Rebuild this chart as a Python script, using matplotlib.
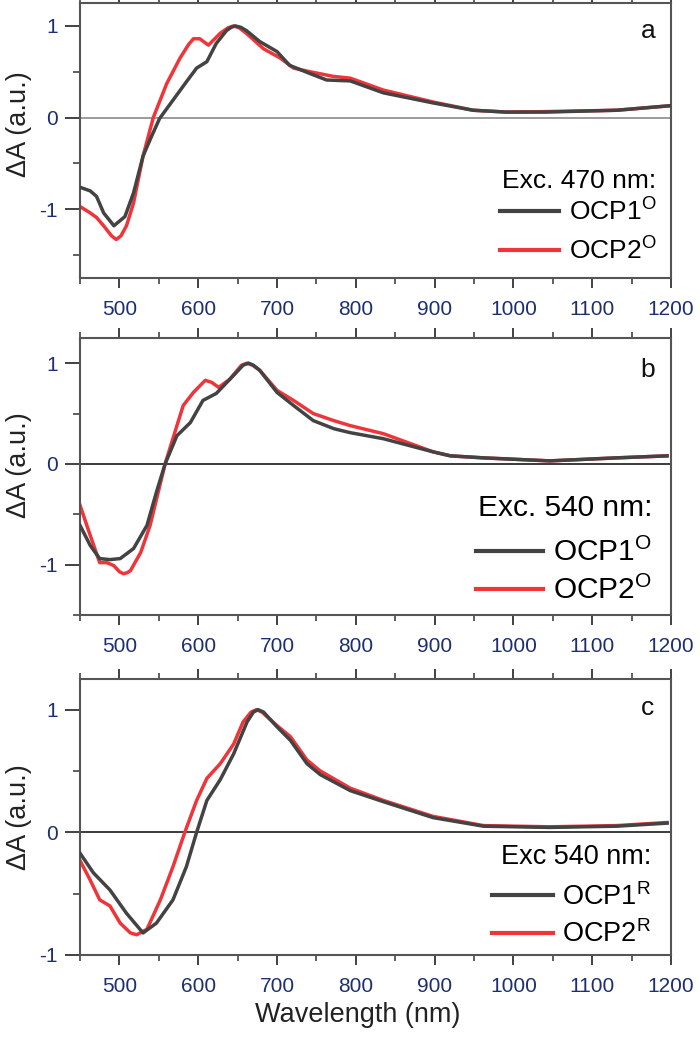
import matplotlib
matplotlib.use("Agg")
import matplotlib.pyplot as plt
from matplotlib.ticker import MultipleLocator

plt.rcParams['font.family'] = ['Liberation Sans', 'DejaVu Sans']
plt.rcParams['mathtext.fontset'] = 'custom'
plt.rcParams['mathtext.rm'] = 'Liberation Sans'
plt.rcParams['mathtext.it'] = 'Liberation Sans:italic'
plt.rcParams['axes.unicode_minus'] = False

# ---------------- data ----------------
# Panel a (Exc. 470 nm)
wl_a_ocp1 = [450, 463, 471, 480, 493, 507, 518, 530, 540, 551, 568, 585, 598, 611, 623, 636, 642,
             647, 654, 661, 678, 700, 716, 742, 763, 793, 835, 898, 949, 991, 1040, 1131, 1200]
dA_a_ocp1 = [-0.76, -0.80, -0.86, -1.04, -1.18, -1.08, -0.82, -0.42, -0.22, -0.01, 0.19, 0.39, 0.54,
             0.61, 0.81, 0.95, 0.985, 1.00, 0.985, 0.95, 0.83, 0.72, 0.57, 0.48, 0.41, 0.40, 0.27,
             0.16, 0.08, 0.06, 0.06, 0.08, 0.13]
wl_a_ocp2 = [450, 463, 471, 480, 490, 496, 502, 509, 518, 530, 543, 560, 577, 588, 594, 602, 613,
             628, 638, 645, 652, 661, 683, 704, 721, 742, 771, 793, 835, 898, 949, 991, 1040, 1131,
             1200]
dA_a_ocp2 = [-0.97, -1.04, -1.09, -1.18, -1.29, -1.33, -1.29, -1.18, -0.93, -0.42, 0.00, 0.37, 0.65,
             0.80, 0.86, 0.86, 0.79, 0.92, 0.98, 1.00, 0.98, 0.92, 0.75, 0.65, 0.54, 0.50, 0.45,
             0.43, 0.30, 0.17, 0.08, 0.06, 0.065, 0.08, 0.13]

# Panel b (Exc. 540 nm)
wl_b_ocp1 = [450, 463, 475, 488, 501, 518, 535, 547, 558, 573, 590, 606, 623, 645, 657, 664, 670,
             678, 700, 721, 746, 772, 793, 835, 898, 920, 962, 1046, 1131, 1195]
dA_b_ocp1 = [-0.61, -0.81, -0.94, -0.95, -0.94, -0.84, -0.61, -0.28, 0.00, 0.28, 0.41, 0.63, 0.70,
             0.88, 0.98, 1.00, 0.98, 0.93, 0.71, 0.58, 0.43, 0.35, 0.31, 0.25, 0.12, 0.08, 0.06,
             0.03, 0.06, 0.08]
wl_b_ocp2 = [450, 463, 475, 484, 493, 500, 505, 510, 514, 527, 539, 558, 573, 581, 594, 609, 617,
             626, 640, 655, 662, 669, 678, 700, 721, 746, 772, 793, 835, 898, 920, 962, 1046, 1131,
             1195]
dA_b_ocp2 = [-0.41, -0.71, -0.98, -0.98, -1.01, -1.07, -1.09, -1.08, -1.06, -0.88, -0.61, 0.00, 0.38,
             0.58, 0.71, 0.83, 0.81, 0.76, 0.84, 0.98, 1.00, 0.98, 0.93, 0.73, 0.63, 0.50, 0.43,
             0.38, 0.30, 0.12, 0.08, 0.06, 0.03, 0.06, 0.08]

# Panel c (Exc 540 nm, R forms)
wl_c_ocp1 = [450, 467, 488, 509, 530, 547, 568, 585, 598, 611, 628, 645, 662, 670, 676, 683, 700,
             717, 738, 755, 793, 835, 898, 962, 1046, 1131, 1195]
dA_c_ocp1 = [-0.17, -0.33, -0.47, -0.66, -0.82, -0.74, -0.55, -0.28, 0.00, 0.26, 0.43, 0.64, 0.90,
             0.98, 1.00, 0.98, 0.86, 0.75, 0.56, 0.47, 0.34, 0.25, 0.12, 0.05, 0.04, 0.05, 0.075]
wl_c_ocp2 = [450, 463, 475, 488, 501, 514, 522, 535, 552, 568, 583, 598, 611, 628, 645, 657, 667,
             674, 681, 700, 717, 738, 755, 793, 835, 898, 962, 1046, 1131, 1195]
dA_c_ocp2 = [-0.23, -0.39, -0.55, -0.60, -0.74, -0.82, -0.835, -0.79, -0.55, -0.28, 0.00, 0.26,
             0.44, 0.56, 0.72, 0.90, 0.98, 1.00, 0.98, 0.87, 0.78, 0.59, 0.50, 0.36, 0.26, 0.13,
             0.055, 0.045, 0.055, 0.08]

panel_letters = ['a', 'b', 'c']
legend_titles = ['Exc. 470 nm:', 'Exc. 540 nm:', 'Exc 540 nm:']
labels_ocp1 = [r'OCP1$^{\mathrm{O}}$', r'OCP1$^{\mathrm{O}}$', r'OCP1$^{\mathrm{R}}$']
labels_ocp2 = [r'OCP2$^{\mathrm{O}}$', r'OCP2$^{\mathrm{O}}$', r'OCP2$^{\mathrm{R}}$']
x_ticks = [500, 600, 700, 800, 900, 1000, 1100, 1200]
y_ticks = [-1, 0, 1]

# ---------------- style ----------------
C_BLACK = '#434343'
C_RED = '#f0353a'
TICK_COLOR = '#1d2f70'
SPINE_COLOR = '#555555'

fig = plt.figure(figsize=(7, 10.5), dpi=100)
left, width = 80 / 700, 591 / 700
positions = [
    (left, 1 - 278 / 1050, width, 275 / 1050),
    (left, 1 - 615 / 1050, width, 277 / 1050),
    (left, 1 - 955 / 1050, width, 276 / 1050),
]
ylims = [(-1.75, 1.25), (-1.5, 1.25), (-1.0, 1.25)]
zero_colors = ['#8a8a8a', '#1a1a1a', '#1a1a1a']
ylabel_y = [0.56, 0.54, 0.50]
legend_fs = [19, 21.5, 19.5]
legend_spacing = [0.43, 0.30, 0.35]
legend_title_sep = [3.8, 11.5, 9.7]
legend_anchor = [(0.975, 0.05), (0.968, 0.035), (0.966, 0.025)]
letter_y = [0.90, 0.884, 0.895]

data = [
    (wl_a_ocp1, dA_a_ocp1, wl_a_ocp2, dA_a_ocp2),
    (wl_b_ocp1, dA_b_ocp1, wl_b_ocp2, dA_b_ocp2),
    (wl_c_ocp1, dA_c_ocp1, wl_c_ocp2, dA_c_ocp2),
]

for i, pos in enumerate(positions):
    ax = fig.add_axes(pos)
    w1, d1, w2, d2 = data[i]
    ax.axhline(0, color=zero_colors[i], lw=1.2, zorder=1)
    ax.plot(w1, d1, color=C_BLACK, lw=2.5, label=labels_ocp1[i], zorder=3, solid_joinstyle='round')
    ax.plot(w2, d2, color=C_RED, lw=2.5, label=labels_ocp2[i], zorder=2, solid_joinstyle='round')
    ax.set_xlim(450, 1200)
    ax.set_ylim(*ylims[i])
    ax.set_xticks(x_ticks)
    ax.xaxis.set_minor_locator(MultipleLocator(50))
    ax.set_yticks(y_ticks)
    ax.yaxis.set_minor_locator(MultipleLocator(0.5))
    ax.tick_params(axis='x', which='major', direction='out', length=7, width=1.3,
                   top=True, labeltop=False, colors='#333333', labelcolor=TICK_COLOR,
                   labelsize=15, pad=9)
    ax.tick_params(axis='x', which='minor', direction='out', length=4, width=1.1, top=True,
                   colors='#333333')
    ax.tick_params(axis='y', which='major', direction='out', length=11, width=1.3,
                   right=False, colors='#333333', labelcolor=TICK_COLOR, labelsize=15, pad=5)
    ax.tick_params(axis='y', which='minor', direction='out', length=5, width=1.1, right=False,
                   colors='#333333')
    for sp in ax.spines.values():
        sp.set_color(SPINE_COLOR)
        sp.set_linewidth(1.5)
    ax.set_ylabel('ΔA (a.u.)', fontsize=19.5, color='#222222')
    ax.yaxis.set_label_coords(-0.081, ylabel_y[i])
    ax.text(0.961, letter_y[i], panel_letters[i], transform=ax.transAxes,
            ha='center', va='center', fontsize=19, color='#111111')
    leg = ax.legend(title=legend_titles[i], loc='lower right', bbox_to_anchor=legend_anchor[i],
                    frameon=False, fontsize=legend_fs[i], title_fontsize=legend_fs[i],
                    handlelength=2.25, handletextpad=0.35, labelspacing=legend_spacing[i],
                    borderpad=0, borderaxespad=0, alignment='right')
    leg._legend_box.sep = legend_title_sep[i]
    for h in leg.get_lines():
        h.set_linewidth(3)
    if i == 2:
        ax.set_xlabel('Wavelength (nm)', fontsize=19.5, color='#222222')
        ax.xaxis.set_label_coords(0.47, -0.17)

fig.savefig('out.png', dpi=100)
